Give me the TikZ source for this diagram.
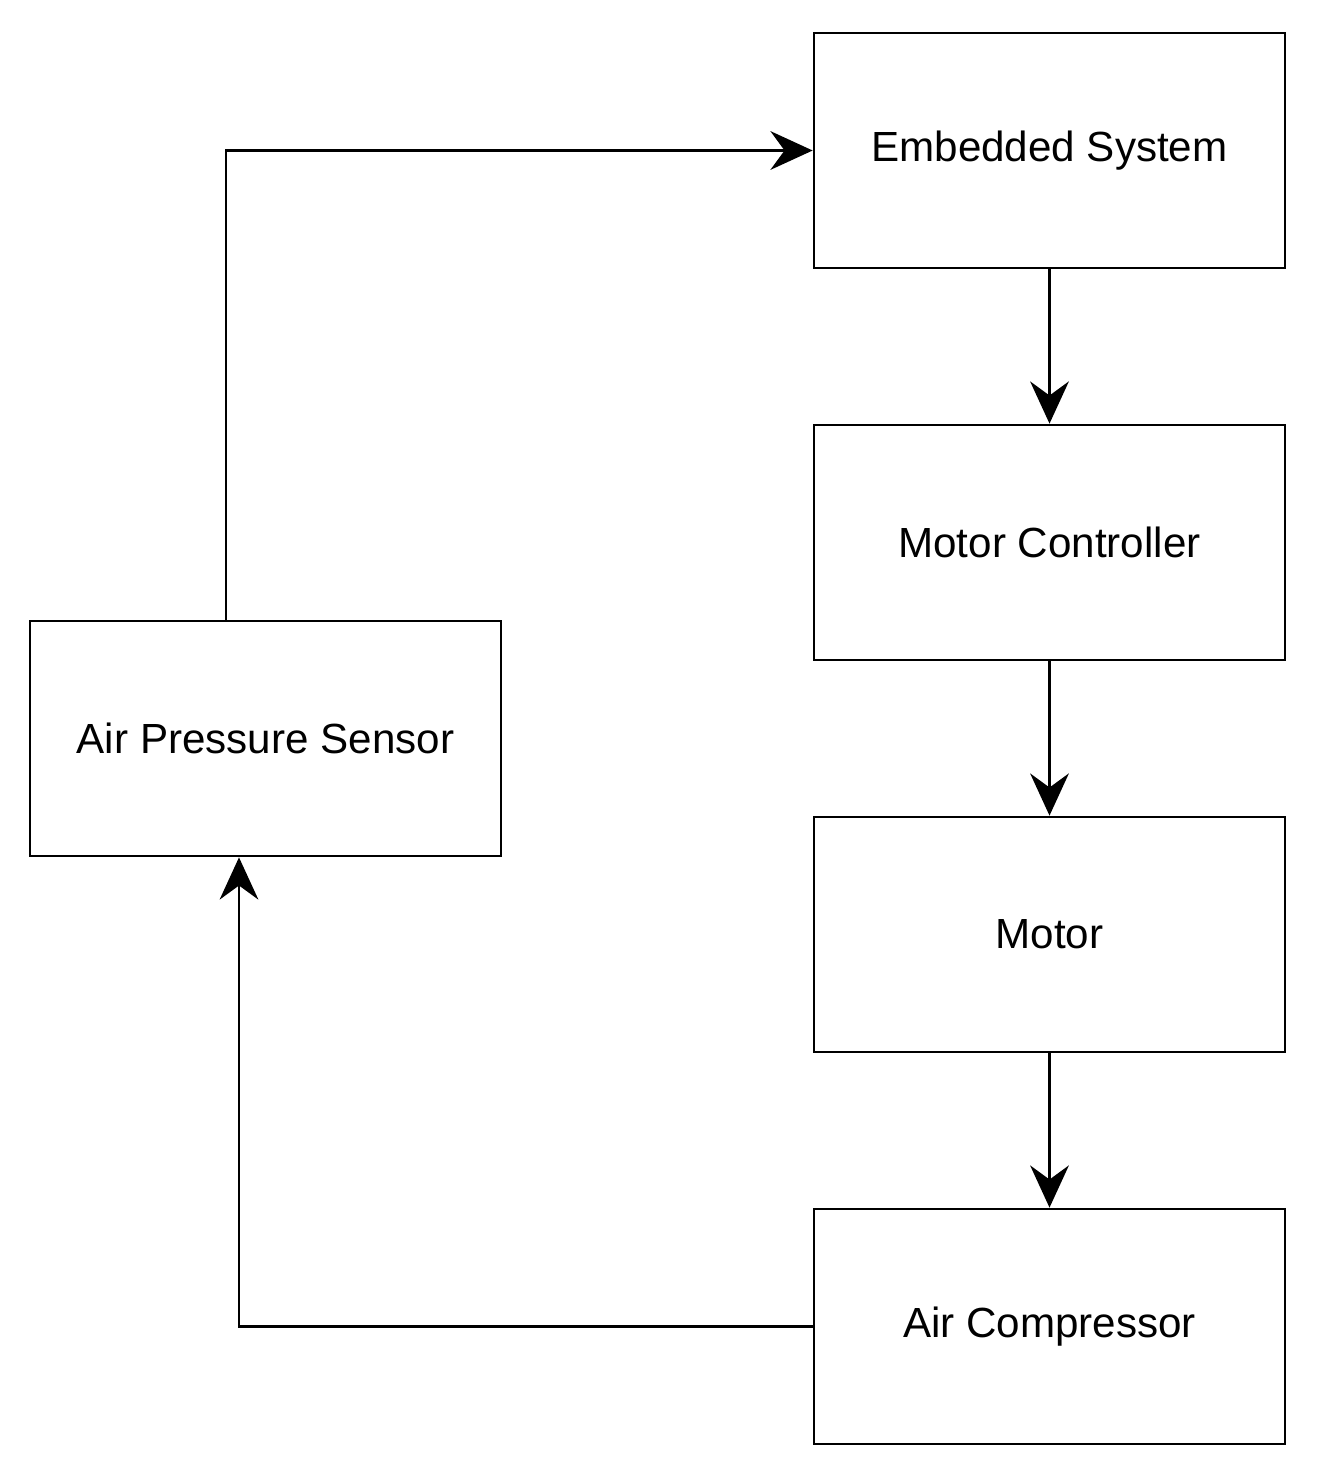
\documentclass[tikz,border=0pt]{standalone}
\usepackage{fontspec}
\setmainfont{Liberation Sans}
\usetikzlibrary{arrows.meta}
\begin{document}
\begin{tikzpicture}[x=0.02cm,y=-0.02cm,
  box/.style={draw,line width=1.6pt,minimum width=9.42cm,minimum height=4.7cm,inner sep=0pt,font=\fontsize{24}{28}\selectfont},
  arr/.style={line width=1.6pt,-{Stealth[length=24pt,width=22pt,inset=8pt]}}]
\useasboundingbox (0,0) rectangle (1323,1470);
\node[box] (es) at (1049.5,150.5) {Embedded System};
\node[box] (mc) at (1049.5,542.5) {Motor Controller};
\node[box] (m) at (1049.5,934.5) {Motor};
\node[box] (ac) at (1049.5,1326.5) {Air Compressor};
\node[box] (aps) at (265.5,738.5) {Air Pressure Sensor};
\draw[arr] (es) -- (mc);
\draw[arr] (mc) -- (m);
\draw[arr] (m) -- (ac);
\draw[arr] (aps.north -| 226,0) |- (es.west);
\draw[arr] (ac.west) -| (aps.south -| 239,0);
\end{tikzpicture}
\end{document}
